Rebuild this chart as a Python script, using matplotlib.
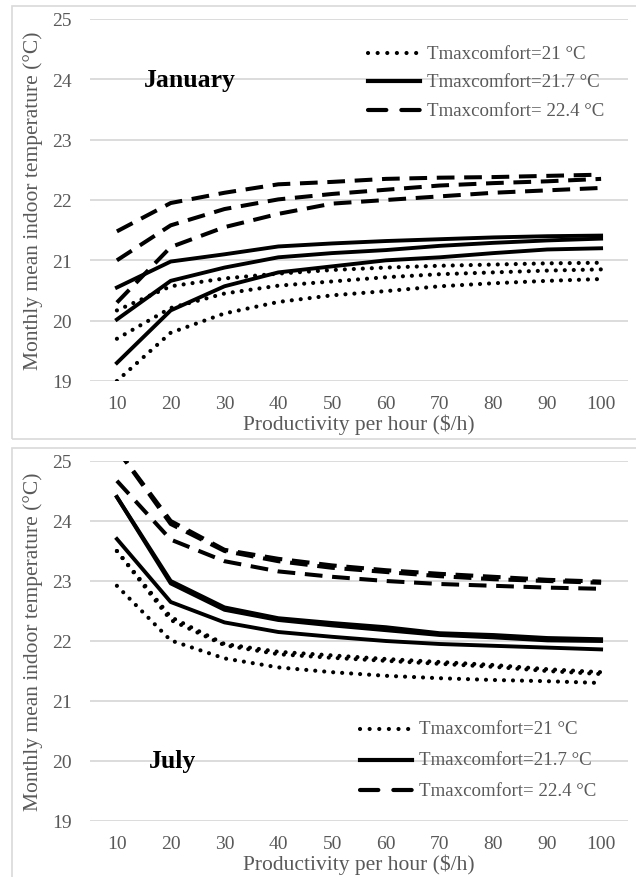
import matplotlib
matplotlib.use("Agg")
import matplotlib.pyplot as plt
from matplotlib.patches import Rectangle

plt.rcParams["font.family"] = ["Liberation Serif", "DejaVu Serif"]

GREY = "#595959"
GRID = "#d9d9d9"

# productivity per hour ($/h)
productivity = [10, 20, 30, 40, 50, 60, 70, 80, 90, 100]
yticks = [19, 20, 21, 22, 23, 24, 25]

labels = ["Tmaxcomfort=21 °C", "Tmaxcomfort=21.7 °C", "Tmaxcomfort= 22.4 °C"]

# January, monthly mean indoor temperature (°C)
jan_t21 = [
    [20.17, 20.57, 20.70, 20.78, 20.84, 20.88, 20.91, 20.93, 20.95, 20.96],
    [19.70, 20.21, 20.45, 20.58, 20.65, 20.72, 20.77, 20.80, 20.83, 20.85],
    [19.00, 19.80, 20.12, 20.31, 20.42, 20.49, 20.57, 20.62, 20.66, 20.69],
]
jan_t217 = [
    [20.55, 20.98, 21.10, 21.23, 21.28, 21.32, 21.35, 21.38, 21.40, 21.41],
    [20.02, 20.66, 20.88, 21.05, 21.12, 21.17, 21.24, 21.29, 21.33, 21.36],
    [19.30, 20.17, 20.57, 20.80, 20.90, 21.00, 21.05, 21.12, 21.18, 21.20],
]
jan_t224 = [
    [21.48, 21.95, 22.12, 22.26, 22.30, 22.35, 22.37, 22.38, 22.40, 22.42],
    [21.00, 21.58, 21.85, 22.01, 22.10, 22.17, 22.24, 22.28, 22.31, 22.35],
    [20.30, 21.22, 21.55, 21.77, 21.94, 22.00, 22.06, 22.12, 22.16, 22.20],
]

# July, monthly mean indoor temperature (°C)
jul_t21 = [
    [23.50, 22.40, 21.95, 21.82, 21.76, 21.70, 21.65, 21.60, 21.53, 21.48],
    [23.50, 22.35, 21.93, 21.78, 21.72, 21.67, 21.62, 21.57, 21.50, 21.45],
    [22.92, 22.01, 21.71, 21.56, 21.48, 21.42, 21.38, 21.35, 21.33, 21.30],
]
jul_t217 = [
    [24.40, 23.00, 22.56, 22.38, 22.30, 22.23, 22.13, 22.10, 22.05, 22.03],
    [24.40, 22.96, 22.52, 22.35, 22.26, 22.18, 22.10, 22.06, 22.01, 22.00],
    [23.70, 22.65, 22.31, 22.15, 22.07, 22.00, 21.95, 21.92, 21.89, 21.86],
]
jul_t224 = [
    [25.20, 24.00, 23.52, 23.37, 23.26, 23.18, 23.12, 23.07, 23.02, 22.99],
    [25.20, 23.95, 23.50, 23.33, 23.22, 23.15, 23.08, 23.03, 23.00, 22.97],
    [24.67, 23.69, 23.33, 23.16, 23.07, 23.00, 22.95, 22.92, 22.89, 22.87],
]

styles = [
    dict(linestyle=(0, (0.01, 2.15)), dash_capstyle="round", linewidth=3.0),
    dict(linestyle="-", linewidth=2.8, solid_joinstyle="round"),
    dict(linestyle=(0, (4.4, 2.4)), dash_capstyle="butt", linewidth=2.9),
]
# the key shows longer dashes than the curves
key_styles = [
    dict(linestyle=(0, (0.01, 2.3)), dash_capstyle="round", linewidth=3.0),
    dict(linestyle="-", linewidth=3.0),
    dict(linestyle=(0, (4.4, 3.6)), dash_capstyle="round", linewidth=3.0),
]

W, H = 636, 878
fig = plt.figure(figsize=(W / 100, H / 100), dpi=100)

# light frames around each panel
for top, bot in [(7, 440), (449, 885)]:
    fig.patches.append(Rectangle((12 / W, 1 - bot / H), 1.2, (bot - top) / H,
                                 transform=fig.transFigure, fill=False,
                                 edgecolor=GRID, linewidth=1.2))


def panel(top_px, bot_px, groups, month, month_xy, key_x, key_y):
    ax = fig.add_axes([90 / W, 1 - bot_px / H, 538 / W, (bot_px - top_px) / H])
    for series, st in zip(groups, styles):
        for ys in series:
            ax.plot(productivity, ys, color="black", **st)
    ax.set_xlim(5, 105)
    ax.set_ylim(19, 25)
    ax.set_xticks(productivity)
    ax.set_yticks(yticks)
    ax.grid(axis="y", color=GRID, linewidth=1.3)
    ax.set_axisbelow(True)
    for s in ax.spines.values():
        s.set_visible(False)
    ax.tick_params(length=0, labelsize=14, colors=GREY)
    ax.tick_params(axis="y", pad=13)
    ax.tick_params(axis="x", pad=10)
    ax.set_xlabel("Productivity per hour ($/h)", fontsize=15.5, color=GREY)
    ax.set_ylabel("Monthly mean indoor temperature (°C)", fontsize=15.5, color=GREY)
    ax.xaxis.set_label_coords(0.5, -0.119)
    ax.xaxis.label.set_va("center")
    ax.yaxis.set_label_coords(-0.105, 0.5)
    ax.yaxis.label.set_va("center")
    ax.text(month_xy[0], month_xy[1], month, fontsize=18.5, fontweight="bold",
            ha="center", va="center")

    # key: short sample line + label for each comfort limit
    x0, x1, xt = key_x
    for y, st, lab in zip(key_y, key_styles, labels):
        ax.plot([x0, x1], [y, y], color="black", transform=ax.transAxes,
                clip_on=False, **st)
        ax.text(xt, y, lab, transform=ax.transAxes, fontsize=13.6, color=GREY,
                ha="left", va="center")
    return ax


panel(20, 382, [jan_t21, jan_t217, jan_t224], "January", (23.5, 24.0),
      (0.517, 0.613, 0.626), (0.906, 0.828, 0.748))
panel(462, 822, [jul_t21, jul_t217, jul_t224], "July", (20.3, 20.0),
      (0.502, 0.599, 0.612), (0.256, 0.170, 0.086))

fig.savefig("out.png", dpi=100)
